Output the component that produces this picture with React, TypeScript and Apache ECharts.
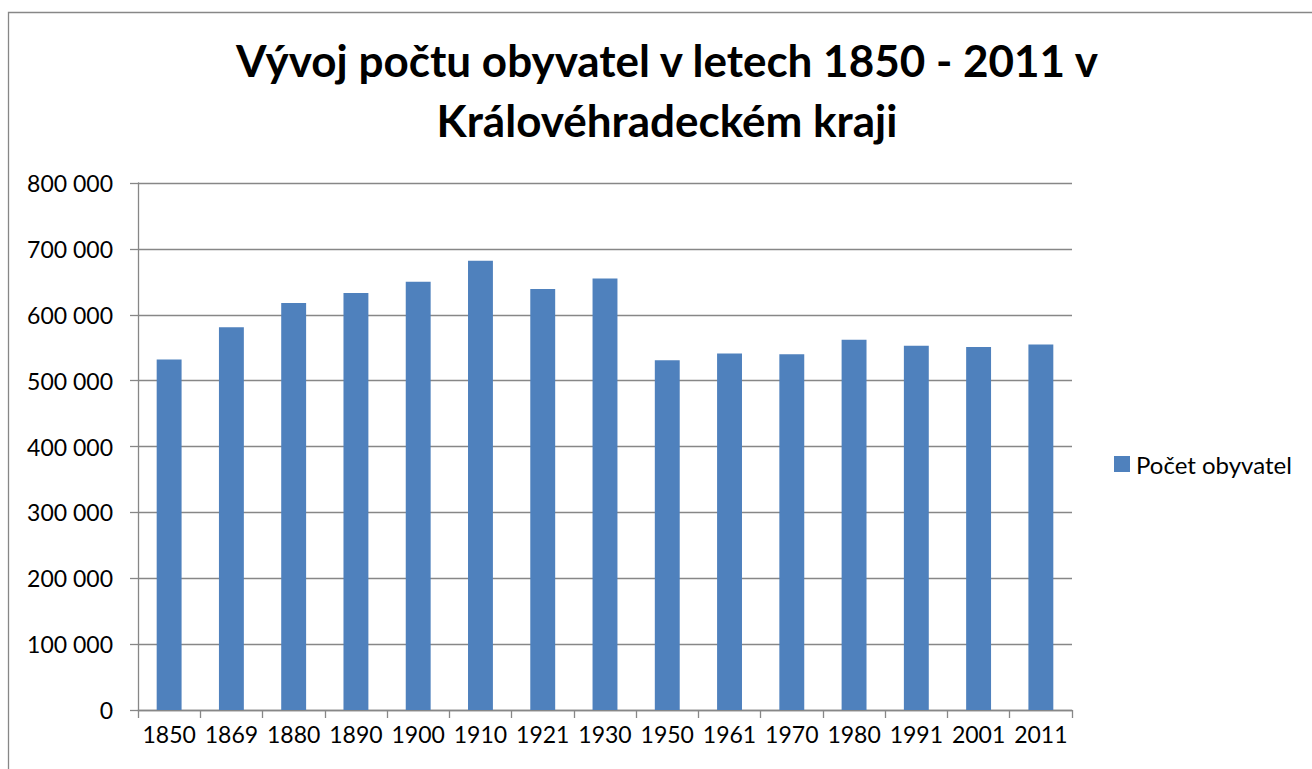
import React, { useEffect, useRef } from "react";
import * as echarts from "echarts";

const titleText = "Vývoj počtu obyvatel v letech 1850 - 2011 v\nKrálovéhradeckém kraji";
const seriesName = "Počet obyvatel";
const years = ["1850", "1869", "1880", "1890", "1900", "1910", "1921", "1930", "1950", "1961", "1970", "1980", "1991", "2001", "2011"];
const population = [532000, 581000, 618000, 633000, 650000, 682000, 639000, 655000, 531000, 541000, 540000, 562000, 553000, 551000, 555000];
const yMin = 0;
const yMax = 800000;
const yStep = 100000;

const FONT = "Lato";
const GRAY = "#878787";
const BLUE = "#4F81BD";

function fmt(v: number): string {
  return String(Math.round(v)).replace(/\B(?=(\d{3})+(?!\d))/g, " ");
}

export default function App() {
  const ref = useRef<HTMLDivElement>(null);
  useEffect(() => {
    if (!ref.current) return;
    const chart = echarts.init(ref.current, null, { renderer: "svg" });
    chart.setOption({
      animation: false,
      backgroundColor: "#ffffff",
      textStyle: { fontFamily: FONT },
      title: {
        text: titleText,
        left: 662,
        top: 25,
        textAlign: "center",
        textStyle: {
          fontFamily: FONT,
          fontWeight: "bold",
          fontSize: 44,
          lineHeight: 60,
          color: "#000000",
        },
      },
      legend: {
        show: true,
        left: 1114,
        top: 452,
        padding: 0,
        itemWidth: 16,
        itemHeight: 16,
        itemGap: 10,
        icon: "rect",
        textStyle: { fontFamily: FONT, fontSize: 24, color: "#000000", padding: [0, 0, 0, 1] },
        data: [seriesName],
      },
      graphic: [
        {
          type: "rect",
          shape: { x: 8.5, y: 12.5, width: 1400, height: 800 },
          style: { fill: "none", stroke: GRAY, lineWidth: 1.3 },
          silent: true,
        },
      ],
      grid: { left: 138, right: 240, top: 183, bottom: 59, containLabel: false },
      xAxis: {
        type: "category",
        data: years,
        boundaryGap: true,
        axisLine: { show: true, lineStyle: { color: GRAY, width: 1.3 } },
        axisTick: { show: true, inside: false, length: 8, alignWithLabel: false, lineStyle: { color: GRAY, width: 1.3 } },
        axisLabel: { fontFamily: FONT, fontSize: 23, color: "#000000", margin: 12, interval: 0 },
        splitLine: { show: false },
      },
      yAxis: {
        type: "value",
        min: yMin,
        max: yMax,
        interval: yStep,
        axisLine: { show: true, lineStyle: { color: GRAY, width: 1.3 } },
        axisTick: { show: true, inside: false, length: 8, lineStyle: { color: GRAY, width: 1.3 } },
        axisLabel: { fontFamily: FONT, fontSize: 23, color: "#000000", margin: 25, formatter: (v: number) => fmt(v) },
        splitLine: { show: true, lineStyle: { color: GRAY, width: 1.3 } },
      },
      series: [
        {
          name: seriesName,
          type: "bar",
          data: population,
          barCategoryGap: "60%",
          itemStyle: { color: BLUE },
        },
      ],
    });
    return () => chart.dispose();
  }, []);
  return (
    <div
      ref={ref}
      style={{ position: "fixed", left: 0, top: 0, width: 1312, height: 769, background: "#fff" }}
    />
  );
}
